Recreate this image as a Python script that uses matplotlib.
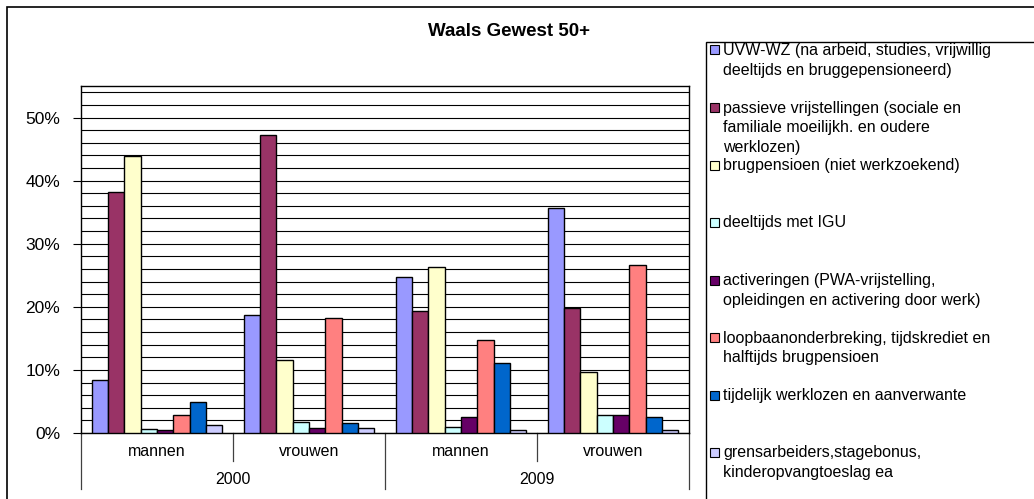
import matplotlib
matplotlib.use("Agg")
import matplotlib.pyplot as plt
from matplotlib.patches import Rectangle
from matplotlib.ticker import FuncFormatter, MultipleLocator
import numpy as np

plt.rcParams["font.family"] = ["Liberation Sans", "DejaVu Sans"]

# ---------------------------------------------------------------------------
# Data (percent of the 50+ population, Waals Gewest)
# ---------------------------------------------------------------------------
sub_labels = ["mannen", "vrouwen", "mannen", "vrouwen"]
year_labels = ["2000", "2009"]

series_names = [
    "UVW-WZ (na arbeid, studies, vrijwillig\ndeeltijds en bruggepensioneerd)",
    "passieve vrijstellingen (sociale en\nfamiliale moeilijkh. en oudere\nwerklozen)",
    "brugpensioen (niet werkzoekend)",
    "deeltijds met IGU",
    "activeringen (PWA-vrijstelling,\nopleidingen en activering door werk)",
    "loopbaanonderbreking, tijdskrediet en\nhalftijds brugpensioen",
    "tijdelijk werklozen en aanverwante",
    "grensarbeiders,stagebonus,\nkinderopvangtoeslag ea",
]
series_colors = ["#9999FF", "#993366", "#FFFFCC", "#CCFFFF",
                 "#660066", "#FF8080", "#0066CC", "#CCCCFF"]

uvw_wz = [8.4, 18.7, 24.8, 35.6]
passieve = [38.2, 47.2, 19.3, 19.8]
brugpensioen = [43.9, 11.5, 26.3, 9.7]
deeltijds_igu = [0.6, 1.7, 1.0, 2.8]
activeringen = [0.4, 0.8, 2.6, 2.8]
loopbaan = [2.8, 18.3, 14.7, 26.6]
tijdelijk = [4.9, 1.6, 11.1, 2.5]
grens = [1.2, 0.8, 0.4, 0.4]

series_values = [uvw_wz, passieve, brugpensioen, deeltijds_igu,
                 activeringen, loopbaan, tijdelijk, grens]

# ---------------------------------------------------------------------------
W, H = 1034, 499
fig = plt.figure(figsize=(W / 100, H / 100), dpi=100)

# plot area in pixel coordinates of the original
px_left, px_right, px_top, px_bottom = 81, 689, 86, 433
ax = fig.add_axes([px_left / W, 1 - px_bottom / H,
                   (px_right - px_left) / W, (px_bottom - px_top) / H])

n_series = len(series_values)
x = np.arange(len(sub_labels))
bar_w = 0.107
for i, (vals, col) in enumerate(zip(series_values, series_colors)):
    offs = (i - (n_series - 1) / 2) * bar_w
    ax.bar(x + offs, vals, width=bar_w, color=col, edgecolor="black",
           linewidth=1.0, zorder=3)

ax.set_xlim(-0.5, len(sub_labels) - 0.5)
ax.set_ylim(0, 55)
ax.yaxis.set_major_locator(MultipleLocator(10))
ax.yaxis.set_minor_locator(MultipleLocator(2))
ax.yaxis.set_major_formatter(FuncFormatter(lambda v, _: f"{v:.0f}%"))
ax.tick_params(axis="y", which="major", length=6, width=0.8, labelsize=12.5,
               pad=9, direction="out")
ax.tick_params(axis="y", which="minor", length=0)
ax.grid(axis="y", which="both", color="black", linewidth=0.8, zorder=0)
ax.set_xticks([])
for s in ax.spines.values():
    s.set_linewidth(1.0)
    s.set_color("black")

# two-level category axis
trans = ax.get_xaxis_transform()
for xi, lab in zip(x, sub_labels):
    ax.text(xi, -0.052, lab, transform=trans, ha="center", va="center",
            fontsize=11.5)
for k in range(1, len(sub_labels), 2):
    ax.plot([k - 0.5, k - 0.5], [0, -0.081], transform=trans, color="#404040",
            linewidth=0.9, clip_on=False)
for k, yl in enumerate(year_labels):
    ax.text(2 * k + 0.5, -0.135, yl, transform=trans, ha="center",
            va="center", fontsize=11.5)
for b in [-0.5, 1.5, 3.5]:
    ax.plot([b, b], [0, -0.162], transform=trans, color="#404040",
            linewidth=0.9, clip_on=False)

fig.text(509 / W, 1 - 32 / H, "Waals Gewest 50+", ha="center", va="center",
         fontsize=13.5, fontweight="bold")

# outer chart frame and legend frame (cut off at right / bottom)
fig.patches.append(Rectangle((7 / W, -0.05), 1.1, 1 - 7 / H + 0.05,
                             transform=fig.transFigure, fill=False,
                             edgecolor="black", linewidth=1.2))
fig.patches.append(Rectangle((706 / W, -0.05), 1.1, 1 - 42 / H + 0.05,
                             transform=fig.transFigure, fill=False,
                             edgecolor="black", linewidth=1.0))

# legend entries
for i, (name, col) in enumerate(zip(series_names, series_colors)):
    yc = 50 + i * 57.5
    fig.patches.append(Rectangle((710 / W, 1 - (yc + 4.5) / H), 9 / W, 9 / H,
                                 transform=fig.transFigure, facecolor=col,
                                 edgecolor="black", linewidth=0.8))
    fig.text(723 / W, 1 - (yc - 7) / H, name, ha="left", va="top",
             fontsize=11.5, linespacing=1.38)

fig.savefig("out.png", dpi=100)
